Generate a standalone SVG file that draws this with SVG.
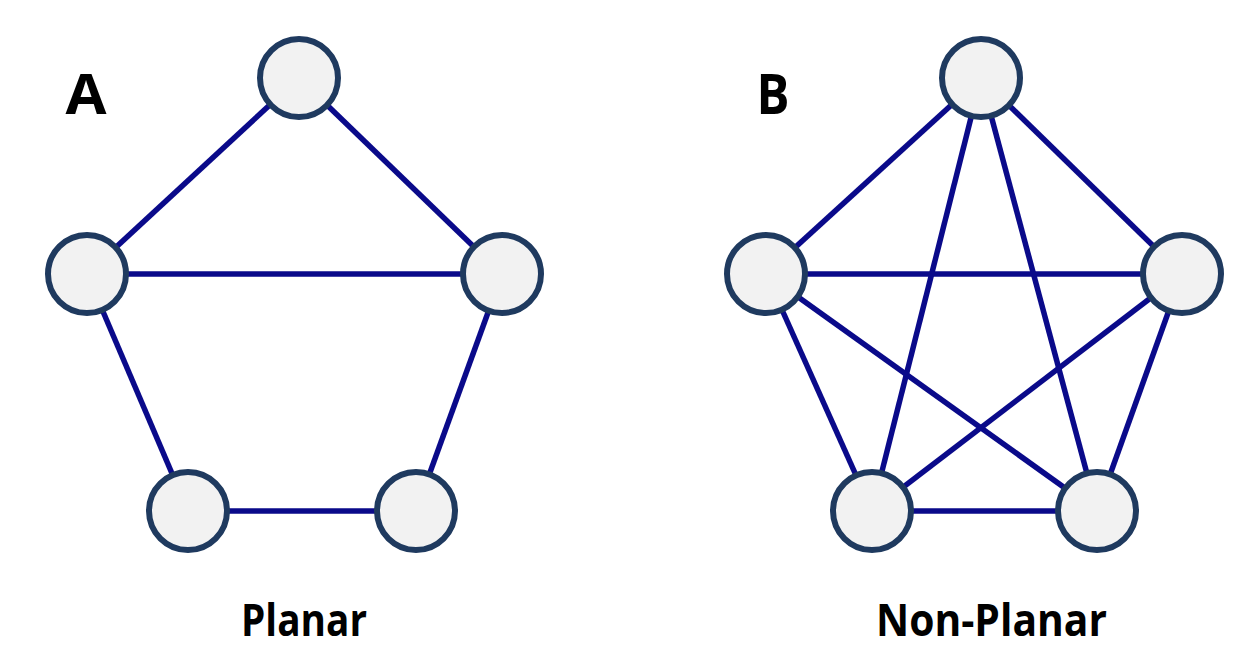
<svg xmlns="http://www.w3.org/2000/svg" width="1240" height="658" viewBox="0 0 1240 658">
<style>
.e{stroke:#0a0a8a;stroke-width:5.5;fill:none}
.n{fill:#f2f2f2;stroke:#1f3a5f;stroke-width:6}
.t{font-family:"Open Sans","Liberation Sans",sans-serif;font-weight:bold;fill:#000}
</style>
<rect width="1240" height="658" fill="#fff"/>
<g id="connectors">
<line class="e" x1="299" y1="78" x2="87" y2="274"/>
<line class="e" x1="299" y1="78" x2="502" y2="274"/>
<line class="e" x1="87" y1="274" x2="502" y2="274"/>
<line class="e" x1="87" y1="274" x2="188" y2="511"/>
<line class="e" x1="502" y1="274" x2="416" y2="511"/>
<line class="e" x1="188" y1="511" x2="416" y2="511"/>
<line class="e" x1="981" y1="78" x2="766" y2="274"/>
<line class="e" x1="981" y1="78" x2="1182" y2="274"/>
<line class="e" x1="981" y1="78" x2="872" y2="511"/>
<line class="e" x1="981" y1="78" x2="1097" y2="511"/>
<line class="e" x1="766" y1="274" x2="1182" y2="274"/>
<line class="e" x1="766" y1="274" x2="872" y2="511"/>
<line class="e" x1="766" y1="274" x2="1097" y2="511"/>
<line class="e" x1="1182" y1="274" x2="872" y2="511"/>
<line class="e" x1="1182" y1="274" x2="1097" y2="511"/>
<line class="e" x1="872" y1="511" x2="1097" y2="511"/>
</g>
<g id="a-top"><circle class="n" cx="299" cy="78" r="39"/></g>
<g id="a-left"><circle class="n" cx="87" cy="274" r="39"/></g>
<g id="a-right"><circle class="n" cx="502" cy="274" r="39"/></g>
<g id="a-bl"><circle class="n" cx="188" cy="511" r="39"/></g>
<g id="a-br"><circle class="n" cx="416" cy="511" r="39"/></g>
<g id="b-top"><circle class="n" cx="981" cy="78" r="39"/></g>
<g id="b-left"><circle class="n" cx="766" cy="274" r="39"/></g>
<g id="b-right"><circle class="n" cx="1182" cy="274" r="39"/></g>
<g id="b-bl"><circle class="n" cx="872" cy="511" r="39"/></g>
<g id="b-br"><circle class="n" cx="1097" cy="511" r="39"/></g>
<g id="labels">
<text class="t" x="86" y="114" font-size="56" text-anchor="middle" textLength="41" lengthAdjust="spacingAndGlyphs">A</text>
<text class="t" x="773" y="114" font-size="56" text-anchor="middle" textLength="33" lengthAdjust="spacingAndGlyphs">B</text>
<text class="t" x="304" y="636" font-size="45" text-anchor="middle" textLength="126" lengthAdjust="spacingAndGlyphs">Planar</text>
<text class="t" x="991.5" y="636" font-size="45" text-anchor="middle" textLength="231" lengthAdjust="spacingAndGlyphs">Non-Planar</text>
</g>
</svg>
